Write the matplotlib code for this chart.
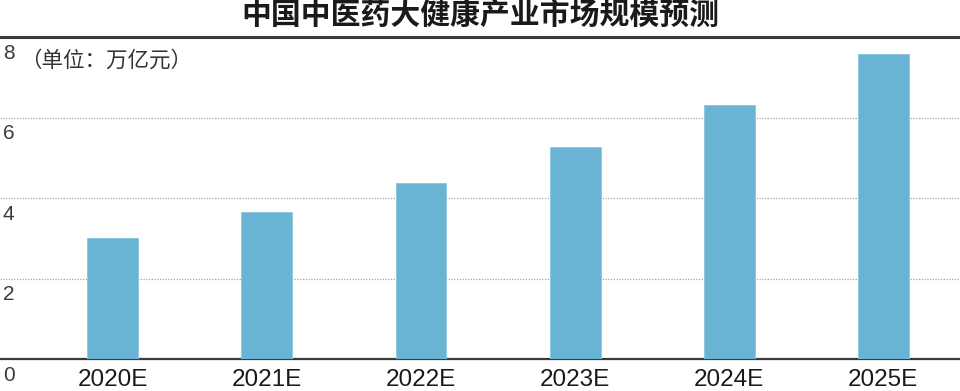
import matplotlib
matplotlib.use("Agg")
import matplotlib.pyplot as plt
from matplotlib.transforms import blended_transform_factory

plt.rcParams['font.family'] = ['Liberation Sans', 'Noto Sans CJK SC', 'DejaVu Sans']

title = "中国中医药大健康产业市场规模预测"
unit_label = "（单位：万亿元）"
categories = ["2020E", "2021E", "2022E", "2023E", "2024E", "2025E"]
values = [3.0, 3.65, 4.38, 5.27, 6.32, 7.58]
y_ticks = [0, 2, 4, 6, 8]

bar_color = "#69B3D4"
line_color = "#3a3a3a"

fig = plt.figure(figsize=(9.6, 3.91), dpi=100)
ax = fig.add_axes([0.0, 32/391, 1.0, 322/391])

x = list(range(len(categories)))
ax.bar(x, values, width=0.33, color=bar_color, edgecolor="#8cc6df", linewidth=0.6, zorder=3)

ax.set_xlim(-0.732, 5.498)
ax.set_ylim(0, 8)

# gridlines
for t in y_ticks[1:-1]:
    ax.axhline(t, color="#a8a8a8", linestyle=(0, (1, 1.2)), linewidth=0.9, zorder=1)

for s in ["left", "right"]:
    ax.spines[s].set_visible(False)
ax.spines["top"].set_color(line_color)
ax.spines["top"].set_linewidth(2.2)
ax.spines["bottom"].set_color(line_color)
ax.spines["bottom"].set_linewidth(1.6)

ax.set_yticks([])
ax.set_xticks(x)
ax.set_xticklabels(categories, fontsize=17.5, color="#1a1a1a")
ax.tick_params(axis="x", length=0, pad=7)

trans = blended_transform_factory(ax.transAxes, ax.transData)
for t in y_ticks:
    ax.annotate(str(t), xy=(0, t), xycoords=trans, xytext=(2, -5),
                textcoords="offset points", ha="left", va="top",
                fontsize=15, color="#3c3c3c", annotation_clip=False)

fig.text(20/960, 1 - 61/391, unit_label, fontsize=15.5, color="#333333",
         family=['Noto Sans CJK SC', 'DejaVu Sans'], ha="left", va="center")

fig.text(0.5, 1 - 16/391, title, fontsize=21.5, fontweight="bold", color="#1a1a1a",
         family=['Noto Sans CJK SC', 'DejaVu Sans'], ha="center", va="center")

fig.savefig("out.png", dpi=100, facecolor="white")
